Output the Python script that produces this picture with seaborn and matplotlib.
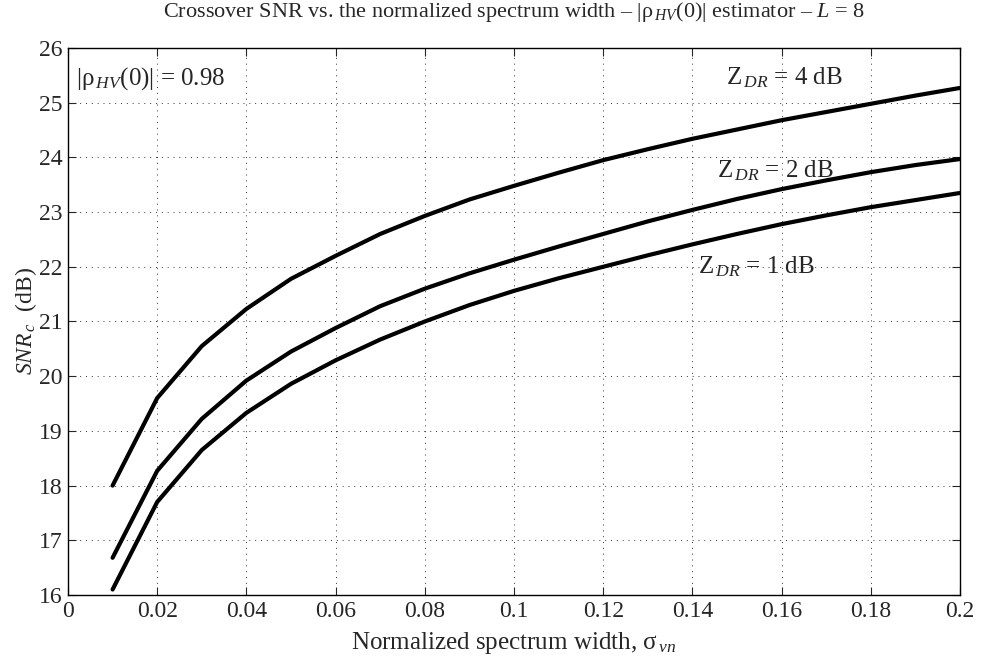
import numpy as np
import pandas as pd
import matplotlib
matplotlib.use("Agg")
import matplotlib.pyplot as plt
import seaborn as sns

# Valores
sigma_vn = [0.01, 0.02, 0.03, 0.04, 0.05, 0.06, 0.07, 0.08, 0.09, 0.10,
            0.11, 0.12, 0.13, 0.14, 0.15, 0.16, 0.17, 0.18, 0.19, 0.20]
snr_zdr4 = [18.00, 19.60, 20.55, 21.23, 21.78, 22.20, 22.60, 22.93, 23.23, 23.48,
            23.72, 23.95, 24.15, 24.34, 24.51, 24.68, 24.83, 24.98, 25.13, 25.27]
snr_zdr2 = [16.68, 18.27, 19.22, 19.92, 20.45, 20.88, 21.28, 21.60, 21.88, 22.13,
            22.37, 22.60, 22.83, 23.04, 23.24, 23.42, 23.58, 23.73, 23.86, 23.97]
snr_zdr1 = [16.10, 17.70, 18.65, 19.33, 19.86, 20.29, 20.67, 21.00, 21.30, 21.56,
            21.79, 22.00, 22.21, 22.41, 22.60, 22.78, 22.94, 23.09, 23.22, 23.35]
zdr_labels = ["4", "2", "1"]
x_ticks = [0, 0.02, 0.04, 0.06, 0.08, 0.1, 0.12, 0.14, 0.16, 0.18, 0.2]
x_tick_labels = ["0", "0.02", "0.04", "0.06", "0.08", "0.1", "0.12", "0.14", "0.16", "0.18", "0.2"]
y_ticks = [16, 17, 18, 19, 20, 21, 22, 23, 24, 25, 26]

df = pd.DataFrame({
    "sigma": sigma_vn * 3,
    "snr": snr_zdr4 + snr_zdr2 + snr_zdr1,
    "zdr": [z for z in zdr_labels for _ in sigma_vn],
})

sns.set_style("ticks")
plt.rcParams["font.family"] = ["Liberation Serif", "DejaVu Serif"]
plt.rcParams["mathtext.fontset"] = "custom"
plt.rcParams["mathtext.rm"] = "Liberation Serif"
plt.rcParams["mathtext.it"] = "Liberation Serif:italic"
plt.rcParams["mathtext.bf"] = "Liberation Serif:bold"

fig = plt.figure(figsize=(9.81, 6.65), dpi=100)
ax = fig.add_axes([0.0693, 0.1053, 0.9093, 0.8225])

sns.lineplot(data=df, x="sigma", y="snr", hue="zdr", palette=["k", "k", "k"],
             linewidth=3, legend=False, ax=ax)

ax.set_xlim(0, 0.2)
ax.set_ylim(16, 26)
ax.set_xticks(x_ticks)
ax.set_xticklabels(x_tick_labels)
ax.set_yticks(y_ticks)
ax.tick_params(direction="in", length=6, width=0.8, labelsize=17,
               top=True, right=True, pad=4)
for s in ax.spines.values():
    s.set_visible(True)
    s.set_linewidth(1.0)
    s.set_color("k")
ax.grid(True, linestyle=(0, (1, 5)), color="k", linewidth=0.7, alpha=0.8)

ax.set_xlabel("Normalized spectrum width, σ$_{\\,vn}$", fontsize=18, labelpad=6)
ax.set_ylabel("$SNR_{\\,c}$  (dB)", fontsize=17, labelpad=0)
ax.set_title("Crossover SNR vs. the normalized spectrum width – |ρ$_{\\,HV}$(0)| estimator – $L$ = 8",
             fontsize=16, pad=22)

# Etiquetas de las curvas
ax.text(0.1475, 25.45, "Z$_{\\,DR}$ = 4 dB", fontsize=18, va="center", ha="left")
ax.text(0.1455, 23.75, "Z$_{\\,DR}$ = 2 dB", fontsize=18, va="center", ha="left")
ax.text(0.1413, 22.0, "Z$_{\\,DR}$ = 1 dB", fontsize=18, va="center", ha="left")
ax.text(0.0018, 25.45, "|ρ$_{\\,HV}$(0)| = 0.98", fontsize=18, va="center", ha="left")

fig.savefig("out.png", dpi=100)
